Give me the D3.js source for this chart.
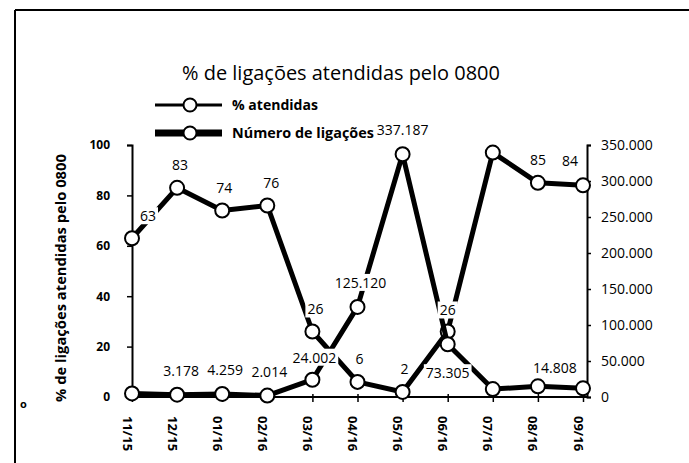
<!DOCTYPE html>
<html>
<head>
<meta charset="utf-8">
<script src="https://cdn.jsdelivr.net/npm/d3@7"></script>
<style>
  body { margin: 0; background: #fff; }
  svg { display: block; font-family: "Open Sans", sans-serif; }
</style>
</head>
<body>
<svg id="chart" width="689" height="463"></svg>
<script>
// Monthly series: share of answered calls (%) and number of calls received
const months = ["11/15", "12/15", "01/16", "02/16", "03/16", "04/16", "05/16", "06/16", "07/16", "08/16", "09/16"];
const pctAnswered = [63, 83, 74, 76, 26, 6, 2, 26, 97, 85, 84];
const callCount = [5000, 3178, 4259, 2014, 24002, 125120, 337187, 73305, 11000, 14808, 12000];
const pctTicks = [0, 20, 40, 60, 80, 100];
const countTicks = [0, 50000, 100000, 150000, 200000, 250000, 300000, 350000];
const seriesNames = ["% atendidas", "Número de ligações"];
const chartTitle = "% de ligações atendidas pelo 0800";
const pctAxisTitle = "% de ligações atendidas pelo 0800";

const ptBR = d3.formatLocale({ decimal: ",", thousands: ".", grouping: [3], currency: ["R$", ""] });
const fmtCount = ptBR.format(",d");

const svg = d3.select("#chart");

// plot geometry
const plot = { left: 132, right: 587, top: 145, bottom: 397 };
const x = d3.scalePoint().domain(months).range([plot.left, 583]);
const yPct = d3.scaleLinear().domain([0, 100]).range([plot.bottom, plot.top]);
const yCount = d3.scaleLinear().domain([0, 350000]).range([plot.bottom, plot.top]);

// outer frame (top and left edges)
svg.append("line").attr("x1", 15).attr("x2", 689).attr("y1", 10).attr("y2", 10)
  .attr("stroke", "#000").attr("stroke-width", 2);
svg.append("line").attr("x1", 15).attr("x2", 15).attr("y1", 10).attr("y2", 463)
  .attr("stroke", "#000").attr("stroke-width", 2);
svg.append("text").attr("x", 20).attr("y", 408).attr("font-size", 11).attr("font-weight", 700).text("o");

function fitWidth(sel, width) {
  const w = sel.node().getComputedTextLength();
  const fs = parseFloat(sel.attr("font-size"));
  sel.attr("font-size", fs * width / w);
}

// title
const title = svg.append("text").attr("x", 341).attr("y", 80).attr("text-anchor", "middle")
  .attr("font-size", 18).attr("fill", "#000").text(chartTitle);
fitWidth(title, 318);

// legend
const legendRows = [
  { name: seriesNames[0], y: 105, w: 3, tw: 86 },
  { name: seriesNames[1], y: 133, w: 7, tw: 142 }
];
legendRows.forEach(r => {
  svg.append("line").attr("x1", 155).attr("x2", 222).attr("y1", r.y).attr("y2", r.y)
    .attr("stroke", "#000").attr("stroke-width", r.w);
  svg.append("circle").attr("cx", 190).attr("cy", r.y).attr("r", 6.5)
    .attr("fill", "#fff").attr("stroke", "#000").attr("stroke-width", 2);
  const t = svg.append("text").attr("x", 232).attr("y", r.y + 4.5).attr("font-size", 12.5)
    .attr("font-weight", 700).text(r.name);
  fitWidth(t, r.tw);
  t.attr("font-size", Math.min(parseFloat(t.attr("font-size")), 14.5));
});

// left axis (percentage)
const axL = svg.append("g").attr("transform", `translate(${plot.left},0)`)
  .call(d3.axisLeft(yPct).tickValues(pctTicks).tickSize(5).tickPadding(17));
axL.select(".domain").attr("stroke-width", 2);
axL.selectAll(".tick line").attr("stroke-width", 1.5);
axL.selectAll(".tick text").attr("font-size", 12).attr("font-weight", 700)
  .attr("font-family", "Open Sans").attr("fill", "#000");

// right axis (number of calls)
const axR = svg.append("g").attr("transform", `translate(${plot.right},0)`)
  .call(d3.axisRight(yCount).tickValues(countTicks).tickSize(4).tickPadding(10).tickFormat(fmtCount));
axR.select(".domain").attr("stroke-width", 2);
axR.selectAll(".tick line").attr("stroke-width", 1.5);
axR.selectAll(".tick text").attr("font-size", 14).attr("font-family", "Open Sans").attr("fill", "#000");

// category axis
svg.append("line").attr("x1", plot.left).attr("x2", plot.right).attr("y1", plot.bottom).attr("y2", plot.bottom)
  .attr("stroke", "#000").attr("stroke-width", 2);
const axB = svg.append("g").attr("transform", `translate(0,${plot.bottom})`)
  .call(d3.axisBottom(x).tickSize(5).tickPadding(0));
axB.select(".domain").remove();
axB.selectAll(".tick line").attr("y1", -3).attr("stroke-width", 1.5);
axB.selectAll(".tick text")
  .attr("font-size", 13).attr("font-weight", 700).attr("font-family", "Open Sans").attr("fill", "#000")
  .attr("text-anchor", "start").attr("dy", null)
  .attr("transform", "translate(-5,19) rotate(90)");

// percentage axis title
const yTitle = svg.append("text").attr("transform", "translate(66,278) rotate(-90)")
  .attr("text-anchor", "middle").attr("font-size", 13).attr("font-weight", 700).text(pctAxisTitle);
fitWidth(yTitle, 248);

// series: percentage drawn first, call count on top
const linePct = d3.line().x((d, i) => x(months[i])).y(d => yPct(d));
const lineCount = d3.line().x((d, i) => x(months[i])).y(d => yCount(d));

function series(values, line, y) {
  svg.append("path").attr("d", line(values)).attr("fill", "none")
    .attr("stroke", "#000").attr("stroke-width", 5).attr("stroke-linejoin", "round");
  svg.append("g").selectAll("circle").data(values).join("circle")
    .attr("cx", (d, i) => x(months[i])).attr("cy", d => y(d)).attr("r", 7)
    .attr("fill", "#fff").attr("stroke", "#000").attr("stroke-width", 2);
}
series(pctAnswered, linePct, yPct);
series(callCount, lineCount, yCount);

// data labels with white boxes; offsets place each label next to its point
const pctLabelOffset = [[16, -22], [3, -23], [2, -23], [4, -22], [3, -22], [2, -23], [2, -23], [0, -21], null, [0, -23], [-13, -24]];
const countLabelOffset = [null, [4, -24], [3, -24], [2, -24], [2, -22], [3, -24], [0, -24], [0, 29], null, [17, -18], null];

function dataLabels(values, y, offsets, fmt) {
  values.forEach((v, i) => {
    const off = offsets[i];
    if (!off) return;
    const cx = x(months[i]) + off[0], cy = y(v) + off[1];
    const g = svg.append("g");
    const t = g.append("text").attr("x", cx).attr("y", cy + 5).attr("text-anchor", "middle")
      .attr("font-size", 14).attr("fill", "#000").text(fmt(v));
    const b = t.node().getBBox();
    g.insert("rect", "text").attr("x", b.x - 2).attr("y", b.y + 1).attr("width", b.width + 4)
      .attr("height", b.height - 2).attr("fill", "#fff");
  });
}
dataLabels(pctAnswered, yPct, pctLabelOffset, d => String(d));
dataLabels(callCount, yCount, countLabelOffset, fmtCount);
</script>
</body>
</html>
